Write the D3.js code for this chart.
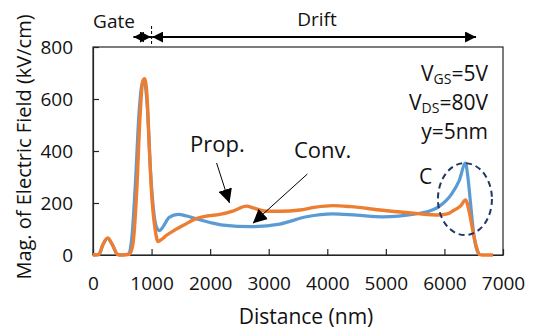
<!DOCTYPE html>
<html>
<head>
<meta charset="utf-8">
<script src="https://cdn.jsdelivr.net/npm/d3@7"></script>
<style>
  html, body { margin: 0; padding: 0; background: #fff; }
  svg { display: block; font-family: "Open Sans", "Liberation Sans", sans-serif; }
</style>
</head>
<body>
<svg id="chart" width="537" height="332"></svg>
<script>
// ---- data ----
const xTicks = [0, 1000, 2000, 3000, 4000, 5000, 6000, 7000];
const yTicks = [0, 200, 400, 600, 800];
const propX = [0,100,170,250,330,420,500,620,680,745,800,850,880,920,960,1000,1060,1110,1160,1250,1365,1550,1740,1950,2165,2400,2620,2750,2960,3200,3530,3800,4090,4400,4940,5510,5905,6050,6150,6280,6360,6420,6480,6545,6600,6650,6830];
const propY = [0,2,40,66,40,2,0,3,40,240,520,670,678,620,420,240,100,52,58,75,92,115,138,150,156,170,188,180,168,168,173,184,190,186,172,160,154,158,170,190,212,170,100,32,2,0,0];
const convX = [0,100,170,250,330,420,500,600,660,720,790,850,880,930,980,1040,1100,1140,1200,1300,1455,1600,1740,2000,2225,2705,3190,3645,4090,4500,4940,5510,5700,5905,6130,6250,6360,6400,6450,6500,6560,6600];
const convY = [0,2,40,64,40,2,0,3,60,260,560,665,660,560,330,160,100,94,110,145,156,150,141,125,115,109,119,147,158,153,147,158,166,186,237,285,353,300,190,80,15,0];
const seriesNames = ["Conv.", "Prop."];
const seriesColors = ["#5B9BD5", "#ED7D31"];

// ---- layout ----
const svg = d3.select("#chart");
const x = d3.scaleLinear().domain([0, 7000]).range([93, 503]);
const y = d3.scaleLinear().domain([0, 800]).range([255, 47]);
const ink = "#111";

// frame
svg.append("rect")
  .attr("x", x(0)).attr("y", y(800))
  .attr("width", x(7000) - x(0)).attr("height", y(0) - y(800))
  .attr("fill", "none").attr("stroke", "#262626").attr("stroke-width", 1.2);

// axes (ticks inward)
const xAxis = svg.append("g").attr("transform", `translate(0,${y(0)})`)
  .call(d3.axisBottom(x).tickValues(xTicks).tickSizeInner(-6).tickSizeOuter(0).tickPadding(22).tickFormat(d3.format("d")));
const yAxis = svg.append("g").attr("transform", `translate(${x(0)},0)`)
  .call(d3.axisLeft(y).tickValues(yTicks).tickSizeInner(-6).tickSizeOuter(0).tickPadding(20).tickFormat(d3.format("d")));
[xAxis, yAxis].forEach(g => {
  g.select(".domain").attr("stroke", "#262626").attr("stroke-width", 1.2);
  g.selectAll(".tick line").attr("stroke", "#262626").attr("stroke-width", 1.2);
  g.selectAll(".tick text").attr("font-size", 19).attr("fill", ink).attr("font-family", "Open Sans");
});
xAxis.selectAll(".tick line").attr("y1", 0).attr("y2", -6);
yAxis.selectAll(".tick line").attr("x1", 0).attr("x2", 6);

// axis titles
svg.append("text").attr("x", 306).attr("y", 324).attr("text-anchor", "middle")
  .attr("font-size", 21).attr("fill", ink).text("Distance (nm)");
svg.append("text").attr("transform", "translate(31,147) rotate(-90)").attr("text-anchor", "middle")
  .attr("font-size", 20).attr("fill", ink).text("Mag. of Electric Field (kV/cm)");

// lines
const line = d3.line().x(d => x(d[0])).y(d => y(d[1])).curve(d3.curveMonotoneX);
const conv = convX.map((v, i) => [v, convY[i]]);
const prop = propX.map((v, i) => [v, propY[i]]);
svg.append("path").datum(conv).attr("d", line).attr("fill", "none")
  .attr("stroke", seriesColors[0]).attr("stroke-width", 3.2).attr("stroke-linejoin", "round");
svg.append("path").datum(prop).attr("d", line).attr("fill", "none")
  .attr("stroke", seriesColors[1]).attr("stroke-width", 3.4).attr("stroke-linejoin", "round");

// arrow markers
const defs = svg.append("defs");
function marker(id, size) {
  defs.append("marker").attr("id", id).attr("viewBox", "0 0 10 10")
    .attr("refX", 10).attr("refY", 5).attr("markerWidth", size).attr("markerHeight", size)
    .attr("markerUnits", "userSpaceOnUse").attr("orient", "auto-start-reverse")
    .append("path").attr("d", "M0,0 L10,5 L0,10 Z").attr("fill", "#000");
}
marker("ah", 11);
marker("big", 14);

// Gate / Drift
const topY = 37;
svg.append("line").attr("x1", x(690)).attr("x2", x(990)).attr("y1", topY).attr("y2", topY)
  .attr("stroke", "#000").attr("stroke-width", 2)
  .attr("marker-start", "url(#ah)").attr("marker-end", "url(#ah)");
svg.append("line").attr("x1", x(1010)).attr("x2", x(6540)).attr("y1", topY).attr("y2", topY)
  .attr("stroke", "#000").attr("stroke-width", 2)
  .attr("marker-start", "url(#ah)").attr("marker-end", "url(#ah)");
svg.append("line").attr("x1", x(1000)).attr("x2", x(1000)).attr("y1", 26).attr("y2", 46)
  .attr("stroke", "#000").attr("stroke-width", 1).attr("stroke-dasharray", "3,2");
svg.append("text").attr("x", 114).attr("y", 28).attr("text-anchor", "middle")
  .attr("font-size", 19).attr("fill", ink).text("Gate");
svg.append("text").attr("x", 317).attr("y", 26).attr("text-anchor", "middle")
  .attr("font-size", 19).attr("fill", ink).text("Drift");

// conditions
const cond = svg.append("g").attr("font-size", 21).attr("fill", ink).attr("text-anchor", "end");
const t1 = cond.append("text").attr("x", 488).attr("y", 81);
t1.append("tspan").text("V");
t1.append("tspan").attr("font-size", 14).attr("dy", 3).text("GS");
t1.append("tspan").attr("dy", -3).text("=5V");
const t2 = cond.append("text").attr("x", 488).attr("y", 110);
t2.append("tspan").text("V");
t2.append("tspan").attr("font-size", 14).attr("dy", 3).text("DS");
t2.append("tspan").attr("dy", -3).text("=80V");
cond.append("text").attr("x", 488).attr("y", 139).text("y=5nm");

// series labels + arrows
svg.append("text").attr("x", 190).attr("y", 152).attr("font-size", 22).attr("fill", ink).text("Prop.");
svg.append("text").attr("x", 294).attr("y", 158).attr("font-size", 22).attr("fill", ink).text("Conv.");
svg.append("line").attr("x1", x(2110)).attr("y1", 163).attr("x2", x(2330)).attr("y2", y(200))
  .attr("stroke", "#000").attr("stroke-width", 1).attr("marker-end", "url(#big)");
svg.append("line").attr("x1", x(3660)).attr("y1", 174).attr("x2", x(2730)).attr("y2", y(122))
  .attr("stroke", "#000").attr("stroke-width", 1).attr("marker-end", "url(#big)");

// region C
svg.append("ellipse").attr("cx", x(6350)).attr("cy", y(215)).attr("rx", 27).attr("ry", 36)
  .attr("fill", "none").attr("stroke", "#1F3864").attr("stroke-width", 2).attr("stroke-dasharray", "6,4");
svg.append("text").attr("x", 419).attr("y", 184).attr("font-size", 21).attr("fill", ink).text("C");
</script>
</body>
</html>
